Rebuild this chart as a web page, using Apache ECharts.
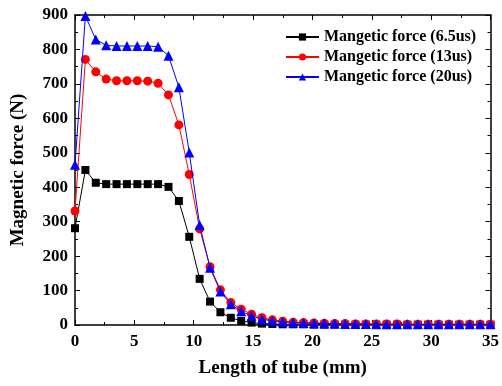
<!DOCTYPE html>
<html><head><meta charset="utf-8">
<script src="https://cdn.jsdelivr.net/npm/echarts@6/dist/echarts.min.js"></script>
<style>html,body{margin:0;padding:0;background:#fff}#c{width:502px;height:386px}</style>
</head><body><div id="c"></div>
<script>
var xStep = 0.875;
var xValues = [];
for (var i = 0; i <= 40; i++) xValues.push(+(i * xStep).toFixed(3));
var f65 = [281,450,413,409,409,409,409,409,409,401,360,256,134,68,37,21,12,7,4,3,2,2,2,1,1,1,1,1,1,1,1,1,1,1,1,1,1,1,1,1,1];
var f13 = [331,771,735,714,709,709,709,708,702,668,581,437,279,169,102,65,46,31,21,15,11,8,7,6,5,4,4,3,3,3,3,3,2,2,2,2,2,2,2,2,2];
var f20 = [465,897,829,812,810,810,810,810,808,782,690,501,290,166,97,60,40,26,17,12,9,7,6,5,4,4,3,3,3,2,2,2,2,2,2,2,2,2,2,2,2];
var names = ['Mangetic force (6.5us)','Mangetic force (13us)','Mangetic force (20us)'];
var xTicks = [0,5,10,15,20,25,30,35];
var yTicks = [0,100,200,300,400,500,600,700,800,900];

function pairs(v){ return v.map(function(y,i){ return [xValues[i], y]; }); }
var font = '"Liberation Serif","Times New Roman",serif';
var chart = echarts.init(document.getElementById('c'));
var axisCommon = {
  axisLine:{show:true,onZero:false,lineStyle:{color:'#000',width:1.5}},
  axisTick:{show:true,inside:true,length:5,lineStyle:{color:'#000',width:1}},
  minorTick:{show:true,splitNumber:2,length:3,lineStyle:{color:'#000',width:1}},
  splitLine:{show:false}
};
chart.setOption({
  animation:false,
  backgroundColor:'#fff',
  grid:{left:75,right:8,top:15,bottom:61},
  legend:{
    data:names, orient:'vertical', left:280, top:24, itemGap:4, itemWidth:33, itemHeight:9, itemTextGap:4,
    textStyle:{fontFamily:font,fontWeight:'bold',fontSize:16,color:'#000'}
  },
  xAxis:[
    Object.assign({type:'value',min:0,max:35,interval:5,position:'bottom',
      name:'Length of tube (mm)',nameLocation:'middle',nameGap:34,
      nameTextStyle:{fontFamily:font,fontWeight:'bold',fontSize:19,color:'#000'},
      axisLabel:{fontFamily:font,fontWeight:'bold',fontSize:17,color:'#000',margin:8,
        formatter:function(v){return xTicks.indexOf(v)>=0?String(v):'';}}},axisCommon),
    Object.assign({type:'value',min:0,max:35,interval:5,position:'top',axisLabel:{show:false}},axisCommon)
  ],
  yAxis:[
    Object.assign({type:'value',min:0,max:900,interval:100,position:'left',
      name:'Magnetic force (N)',nameLocation:'middle',nameGap:47,
      nameTextStyle:{fontFamily:font,fontWeight:'bold',fontSize:19,color:'#000'},
      axisLabel:{fontFamily:font,fontWeight:'bold',fontSize:17,color:'#000',margin:7,
        formatter:function(v){return yTicks.indexOf(v)>=0?String(v):'';}}},axisCommon),
    Object.assign({type:'value',min:0,max:900,interval:100,position:'right',axisLabel:{show:false}},axisCommon)
  ],
  series:[
    {name:names[0],type:'line',data:pairs(f65),symbol:'rect',symbolSize:8,itemStyle:{color:'#000'},lineStyle:{color:'#000',width:1},z:2},
    {name:names[1],type:'line',data:pairs(f13),symbol:'circle',symbolSize:9,itemStyle:{color:'#ff0000'},lineStyle:{color:'#ff0000',width:1},z:3},
    {name:names[2],type:'line',data:pairs(f20),symbol:'triangle',symbolSize:10,itemStyle:{color:'#0000ff'},lineStyle:{color:'#0000ff',width:1},z:4}
  ]
});
</script></body></html>
